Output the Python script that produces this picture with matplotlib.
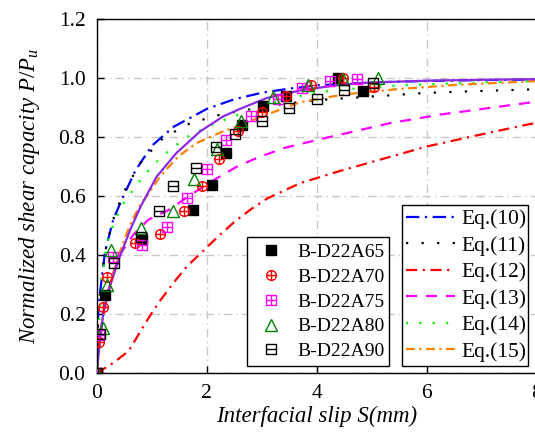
import matplotlib
matplotlib.use('Agg')
import matplotlib.pyplot as plt
from matplotlib.path import Path
from matplotlib.lines import Line2D

plt.rcParams['font.family'] = ['Liberation Serif', 'DejaVu Serif']
plt.rcParams['mathtext.fontset'] = 'custom'
plt.rcParams['mathtext.it'] = 'Liberation Serif:italic'
plt.rcParams['mathtext.rm'] = 'Liberation Serif'

# ---------------- data ----------------
# experimental series
a65_x = [0, 0.15, 0.82, 1.75, 2.09, 2.35, 2.64, 3.03, 3.45, 4.39, 4.85]
a65_y = [0, 0.265, 0.455, 0.552, 0.638, 0.747, 0.84, 0.904, 0.94, 0.999, 0.955]
a70_x = [0, 0.05, 0.11, 0.19, 0.69, 1.16, 1.59, 1.91, 2.23, 2.57, 3.0, 3.45, 3.9, 4.48, 5.04]
a70_y = [0, 0.107, 0.224, 0.325, 0.44, 0.472, 0.548, 0.633, 0.725, 0.819, 0.885, 0.94, 0.975, 1.0, 0.968]
a75_x = [0, 0.05, 0.3, 0.82, 1.28, 1.65, 2.0, 2.36, 2.8, 3.3, 3.73, 4.24, 4.74]
a75_y = [0, 0.13, 0.394, 0.435, 0.495, 0.593, 0.692, 0.791, 0.872, 0.93, 0.966, 0.991, 0.998]
a80_x = [0, 0.11, 0.18, 0.26, 0.8, 1.38, 1.77, 2.18, 2.62, 3.21, 3.85, 4.48, 5.12]
a80_y = [0, 0.152, 0.299, 0.418, 0.491, 0.551, 0.657, 0.759, 0.853, 0.936, 0.977, 0.998, 1.0]
a90_x = [0, 0.06, 0.31, 0.81, 1.13, 1.39, 1.81, 2.17, 2.52, 3.0, 3.5, 4.0, 4.5, 5.02]
a90_y = [0, 0.133, 0.373, 0.461, 0.551, 0.633, 0.694, 0.766, 0.811, 0.855, 0.898, 0.93, 0.959, 0.983]

# model curves
eq10_x = [0, 0.03, 0.06, 0.15, 0.3, 0.45, 0.7, 1.0, 1.4, 2.0, 2.5, 3.0, 3.5, 4.0, 5.0, 6.0, 7.0, 8.0]
eq10_y = [0, 0.21, 0.27, 0.41, 0.52, 0.585, 0.685, 0.77, 0.835, 0.895, 0.928, 0.95, 0.964, 0.975, 0.985, 0.99, 0.993, 0.995]
eq11_x = [0, 0.03, 0.06, 0.15, 0.3, 0.48, 0.82, 1.21, 1.7, 2.27, 2.82, 3.39, 4.0, 5.06, 5.94, 6.79, 7.64, 8.0]
eq11_y = [0, 0.21, 0.27, 0.41, 0.52, 0.61, 0.72, 0.797, 0.847, 0.877, 0.895, 0.912, 0.925, 0.938, 0.949, 0.955, 0.96, 0.962]
eq12_x = [0, 0.3, 0.58, 0.79, 0.97, 1.15, 1.39, 1.64, 1.94, 2.2, 2.5, 2.8, 3.1, 3.7, 4.42, 5.03, 6.0, 6.97, 7.82, 8.0]
eq12_y = [0, 0.035, 0.075, 0.14, 0.195, 0.245, 0.305, 0.362, 0.415, 0.462, 0.512, 0.555, 0.592, 0.644, 0.685, 0.717, 0.768, 0.808, 0.842, 0.848]
eq13_x = [0, 0.05, 0.15, 0.3, 0.45, 0.67, 0.94, 1.33, 1.67, 2.18, 2.55, 2.91, 3.39, 4.0, 4.42, 5.33, 6.24, 7.12, 8.0]
eq13_y = [0, 0.12, 0.24, 0.34, 0.41, 0.47, 0.52, 0.555, 0.6, 0.66, 0.7, 0.729, 0.762, 0.79, 0.808, 0.847, 0.876, 0.898, 0.92]
eq14_x = [0, 0.05, 0.1, 0.15, 0.24, 0.45, 0.64, 0.82, 1.18, 1.64, 2.03, 2.45, 2.84, 3.42, 4.18, 4.9, 5.64, 6.4, 7.0, 8.0]
eq14_y = [0, 0.2, 0.32, 0.4, 0.475, 0.565, 0.616, 0.661, 0.734, 0.8, 0.836, 0.868, 0.893, 0.93, 0.955, 0.968, 0.976, 0.981, 0.985, 0.99]
eq15_x = [0, 0.06, 0.12, 0.24, 0.42, 0.6, 0.79, 0.91, 1.15, 1.48, 1.82, 2.06, 2.27, 2.55, 3.09, 3.7, 4.3, 4.73, 5.51, 6.55, 7.82, 8.0]
eq15_y = [0, 0.11, 0.2, 0.3, 0.41, 0.5, 0.57, 0.6, 0.666, 0.734, 0.78, 0.8, 0.817, 0.836, 0.876, 0.918, 0.938, 0.949, 0.963, 0.977, 0.988, 0.99]
fit_x = [0, 0.06, 0.12, 0.24, 0.42, 0.61, 0.8, 1.09, 1.45, 1.88, 2.3, 2.6, 3.09, 3.7, 4.42, 5.0, 6.0, 7.0, 8.0]
fit_y = [0, 0.113, 0.203, 0.294, 0.395, 0.486, 0.565, 0.666, 0.746, 0.819, 0.87, 0.895, 0.932, 0.958, 0.977, 0.985, 0.991, 0.994, 0.996]

x_ticks = [0, 2, 4, 6, 8]
y_ticks = [0.0, 0.2, 0.4, 0.6, 0.8, 1.0, 1.2]

# ---------------- markers ----------------
M, L, C = Path.MOVETO, Path.LINETO, Path.CLOSEPOLY
def seg(a, b):
    return Path([a, b], [M, L])
sq = Path([(-1, -1), (1, -1), (1, 1), (-1, 1), (-1, -1)], [M, L, L, L, C])
circ_plus = Path.make_compound_path(Path.unit_circle(), seg((-1, 0), (1, 0)), seg((0, -1), (0, 1)))
sq_plus = Path.make_compound_path(sq, seg((-1, 0), (1, 0)), seg((0, -1), (0, 1)))
sq_minus = Path.make_compound_path(sq, seg((-1, 0), (1, 0)))

fig = plt.figure(figsize=(5.35, 4.34), dpi=100)
ax = fig.add_axes([0.1807, 0.1399, 0.8224, 0.8164])

lw = 1.6
l10, = ax.plot(eq10_x, eq10_y, color='#0000ff', lw=lw, dashes=[6, 2.5, 1, 2.5], label='Eq.(10)', zorder=2)
l11, = ax.plot(eq11_x, eq11_y, color='black', lw=lw, dashes=[1, 6], label='Eq.(11)', zorder=2)
l12, = ax.plot(eq12_x, eq12_y, color='#ff0000', lw=lw, dashes=[5, 2.5, 1, 2.5], label='Eq.(12)', zorder=2)
l13, = ax.plot(eq13_x, eq13_y, color='#ff00ff', lw=lw, dashes=[5, 4], label='Eq.(13)', zorder=2)
l14, = ax.plot(eq14_x, eq14_y, color='#00ff00', lw=lw, dashes=[1, 5], label='Eq.(14)', zorder=2)
l15, = ax.plot(eq15_x, eq15_y, color='#ff8000', lw=lw, dashes=[4, 2, 1, 2], label='Eq.(15)', zorder=2)
ax.plot(fit_x, fit_y, color='#8a2be2', lw=lw, zorder=2)

ms = 7
s65, = ax.plot(a65_x, a65_y, ls='none', marker='s', ms=6.5, mfc='black', mec='black', label='B-D22A65', zorder=3)
s70, = ax.plot(a70_x, a70_y, ls='none', marker=circ_plus, ms=ms, mfc='none', mec='#ff0000', mew=1.0, label='B-D22A70', zorder=3)
s75, = ax.plot(a75_x, a75_y, ls='none', marker=sq_plus, ms=6.5, mfc='none', mec='#ff00ff', mew=1.0, label='B-D22A75', zorder=3)
s80, = ax.plot(a80_x, a80_y, ls='none', marker='^', ms=8, mfc='none', mec='#008000', mew=1.0, label='B-D22A80', zorder=3)
s90, = ax.plot(a90_x, a90_y, ls='none', marker=sq_minus, ms=6.5, mfc='none', mec='black', mew=1.0, label='B-D22A90', zorder=3)

ax.set_xlim(0, 8)
ax.set_ylim(0, 1.2)
ax.set_xticks(x_ticks)
ax.set_yticks(y_ticks)
ax.set_yticklabels([f'{v:.1f}' for v in y_ticks])
ax.tick_params(direction='in', length=5, width=1, labelsize=15.5, pad=8)
ax.grid(True, color='#c8c8c8', lw=1.0, dashes=[6, 3, 1, 3])
ax.set_axisbelow(True)
for sp in ax.spines.values():
    sp.set_linewidth(1.0)

ax.set_xlabel('Interfacial slip S(mm)', fontsize=16.5, style='italic', labelpad=2)
ax.set_ylabel('Normalized shear capacity $P/P_u$', fontsize=16.5, style='italic', labelpad=12)

leg1 = ax.legend(handles=[s65, s70, s75, s80, s90], loc='lower left',
                 bbox_to_anchor=(0.3416, 0.0206, 0.3224, 0.3), mode='expand',
                 fontsize=14, frameon=True, fancybox=False, edgecolor='black', framealpha=1,
                 borderpad=0.3, labelspacing=0.37, handlelength=1.85, handletextpad=0.45,
                 borderaxespad=0)
leg1.get_frame().set_linewidth(1.0)
ax.add_artist(leg1)

leg2 = ax.legend(handles=[l10, l11, l12, l13, l14, l15], loc='lower left',
                 bbox_to_anchor=(0.694, 0.0206, 0.286, 0.4), mode='expand',
                 fontsize=15.5, frameon=True, fancybox=False, edgecolor='black', framealpha=1,
                 borderpad=0.2, labelspacing=0.3, handlelength=2.25, handletextpad=0.3,
                 borderaxespad=0)
leg2.get_frame().set_linewidth(1.0)

fig.savefig('out.png', dpi=100)
